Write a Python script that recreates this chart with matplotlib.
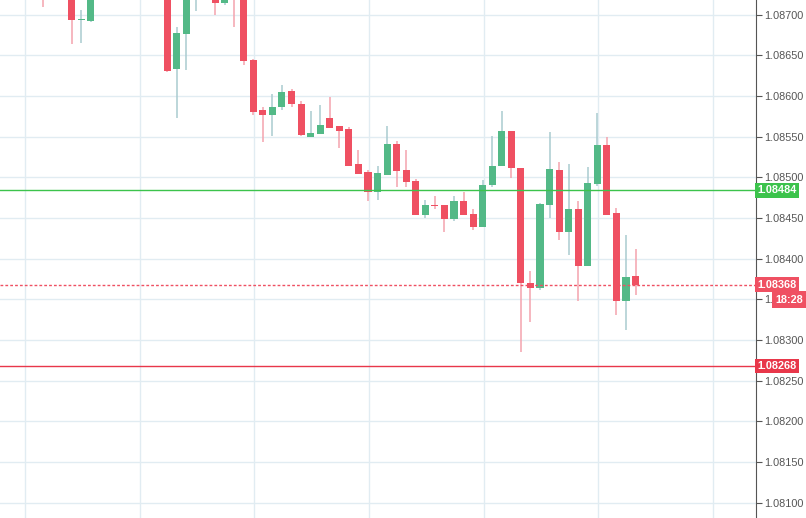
import matplotlib
matplotlib.use("Agg")
import matplotlib.pyplot as plt
from matplotlib.patches import Rectangle

opens = [1.08736,1.08736,1.08728,1.08725,1.08693,1.08692,1.08740,1.08765,1.08752,1.08778,1.08770,1.08758,1.08768,
         1.08760,1.08633,1.08676,1.08728,1.08745,1.08735,1.08714,1.08740,1.08728,1.08644,1.08583,1.08577,1.08586,
         1.08606,1.08590,1.08549,1.08553,1.08573,1.08563,1.08559,1.08516,1.08506,1.08482,1.08503,1.08541,1.08509,
         1.08495,1.08454,1.08466,1.08466,1.08449,1.08471,1.08455,1.08439,1.08490,1.08514,1.08557,1.08511,1.08370,
         1.08364,1.08466,1.08509,1.08433,1.08461,1.08391,1.08492,1.08540,1.08456,1.08348,1.08378]
highs = [1.08743,1.08745,1.08735,1.08728,1.08706,1.08750,1.08772,1.08770,1.08785,1.08782,1.08775,1.08775,1.08772,
         1.08765,1.08685,1.08735,1.08752,1.08750,1.08740,1.08730,1.08745,1.08732,1.08645,1.08586,1.08602,1.08613,
         1.08609,1.08594,1.08581,1.08589,1.08599,1.08563,1.08562,1.08534,1.08509,1.08514,1.08563,1.08545,1.08534,
         1.08498,1.08472,1.08477,1.08466,1.08477,1.08482,1.08461,1.08497,1.08551,1.08581,1.08557,1.08511,1.08385,
         1.08468,1.08556,1.08519,1.08516,1.08471,1.08513,1.08579,1.08549,1.08462,1.08429,1.08412]
lows = [1.08710,1.08722,1.08720,1.08664,1.08665,1.08691,1.08735,1.08745,1.08748,1.08760,1.08750,1.08752,1.08755,
        1.08630,1.08573,1.08632,1.08705,1.08728,1.08700,1.08712,1.08685,1.08638,1.08577,1.08543,1.08551,1.08583,
        1.08586,1.08551,1.08549,1.08553,1.08561,1.08536,1.08514,1.08504,1.08471,1.08472,1.08503,1.08488,1.08488,
        1.08454,1.08450,1.08461,1.08433,1.08446,1.08454,1.08435,1.08439,1.08488,1.08514,1.08499,1.08285,1.08322,
        1.08361,1.08450,1.08423,1.08404,1.08348,1.08391,1.08489,1.08454,1.08331,1.08312,1.08355]
closes = [1.08724,1.08728,1.08722,1.08693,1.08695,1.08740,1.08765,1.08752,1.08778,1.08770,1.08758,1.08768,1.08760,
          1.08631,1.08677,1.08728,1.08745,1.08735,1.08714,1.08725,1.08728,1.08643,1.08580,1.08577,1.08586,1.08605,
          1.08590,1.08552,1.08554,1.08564,1.08561,1.08557,1.08514,1.08504,1.08482,1.08505,1.08541,1.08508,1.08494,
          1.08454,1.08466,1.08465,1.08449,1.08471,1.08454,1.08439,1.08490,1.08514,1.08557,1.08511,1.08370,1.08364,
          1.08467,1.08510,1.08433,1.08461,1.08391,1.08493,1.08540,1.08454,1.08348,1.08377,1.08368]
yticks = [1.08100,1.08150,1.08200,1.08250,1.08300,1.08350,1.08400,1.08450,1.08500,1.08550,1.08600,1.08650,1.08700]
green_level = 1.08484
red_level = 1.08268
last_price = 1.08368
timer = "18:28"

UP, DN = "#53b987", "#ef5062"
UPW, DNW = "#a9cbd0", "#f4a3ad"
FONT = "Liberation Sans"

fig = plt.figure(figsize=(8.06, 5.18), dpi=100)
ax = fig.add_axes([0, 0, 756/806, 1])
ax.set_xlim(-4.5, 74.6)
ax.set_ylim(1.08081, 1.08718)
for k in range(7):
    ax.axvline(-1.88 + 12*k, color="#e1ecf2", lw=1, zorder=0)
for t in yticks:
    ax.axhline(t, color="#e1ecf2", lw=1, zorder=0)

w = 0.74
for i, (o, h, l, c) in enumerate(zip(opens, highs, lows, closes)):
    up = c >= o
    ax.vlines(i, l, h, color=UPW if up else DNW, lw=1.1, zorder=2)
    lo, hi = min(o, c), max(o, c)
    ax.add_patch(Rectangle((i - w/2, lo), w, max(hi - lo, 0.000015), color=UP if up else DN, lw=0, zorder=3))

ax.axhline(green_level, color="#3cc34c", lw=1, zorder=4)
ax.axhline(red_level, color="#e8374a", lw=1, zorder=4)
ax.axhline(last_price, color="#ef5062", lw=1, ls=(0, (2, 1.5)), zorder=4)

for s in ["top", "left", "bottom"]:
    ax.spines[s].set_visible(False)
ax.spines["right"].set_color("#555555")
ax.set_xticks([])
ax.yaxis.tick_right()
ax.set_yticks(yticks)
ax.set_yticklabels([f"{t:.5f}" for t in yticks], fontsize=7.8, color="#555555", family=FONT)
ax.tick_params(axis="y", length=4, color="#555555", pad=2)

tr = ax.get_yaxis_transform()
def tag(y, txt, col, x=1.002, pad=0.22):
    ax.text(x, y, txt, transform=tr, fontsize=7.8, fontweight="bold", color="white",
            family=FONT, va="center", ha="left", clip_on=False, zorder=10,
            bbox=dict(boxstyle=f"square,pad={pad}", fc=col, ec="none"))
tag(green_level, f"{green_level:.5f}", "#3cc34c")
tag(last_price, f"{last_price:.5f}", "#ef5062")
tag(last_price - 0.000185, timer, "#ef5062", x=1.026, pad=0.3)
tag(red_level, f"{red_level:.5f}", "#e8374a")

fig.savefig("out.png", dpi=100)
